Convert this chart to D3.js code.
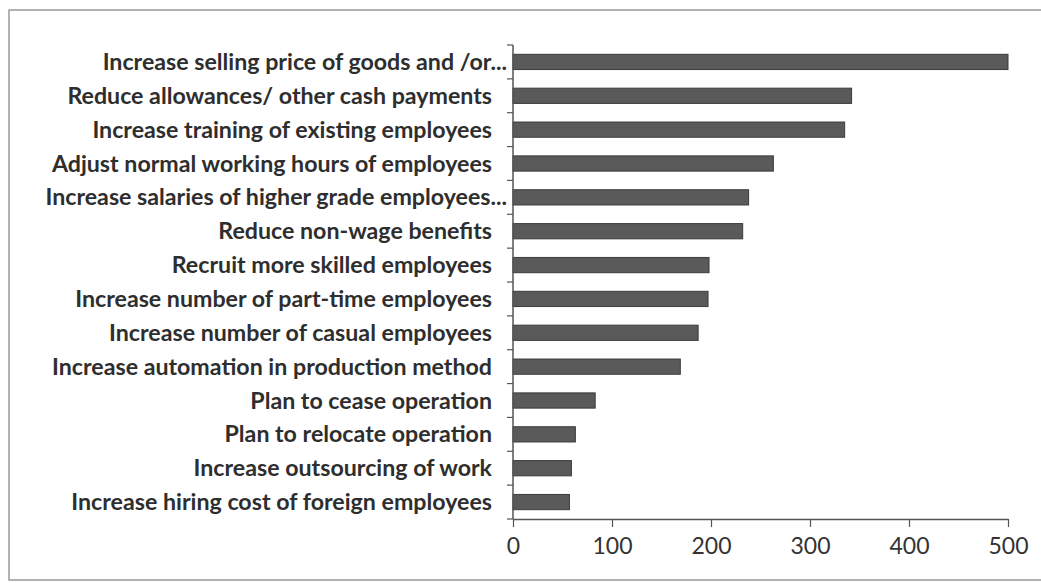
<!DOCTYPE html>
<html>
<head>
<meta charset="utf-8">
<script src="https://cdn.jsdelivr.net/npm/d3@7"></script>
<style>
  html, body { margin: 0; padding: 0; background: #fff; }
  svg { display: block; }
</style>
</head>
<body>
<svg id="chart" width="1041" height="583"></svg>
<script>
const categories = [
  "Increase selling price of goods and /or...",
  "Reduce allowances/ other cash payments",
  "Increase training of existing employees",
  "Adjust normal working hours of employees",
  "Increase salaries of higher grade employees...",
  "Reduce non-wage benefits",
  "Recruit more skilled employees",
  "Increase number of part-time employees",
  "Increase number of casual employees",
  "Increase automation in production method",
  "Plan to cease operation",
  "Plan to relocate operation",
  "Increase outsourcing of work",
  "Increase hiring cost of foreign employees"
];
const values = [500, 342, 335, 263, 238, 232, 198, 197, 187, 169, 83, 63, 59, 57];
const xTicks = [0, 100, 200, 300, 400, 500];

const svg = d3.select("#chart");
const margin = { left: 513, right: 33, top: 45, bottom: 64 };
const W = 1041, H = 583;

// outer frame
svg.append("rect")
  .attr("x", 9).attr("y", 10)
  .attr("width", 1100).attr("height", 570)
  .attr("fill", "none").attr("stroke", "#999").attr("stroke-width", 1.5);

const x = d3.scaleLinear().domain([0, 500]).range([margin.left, W - margin.right]);
const y = d3.scaleBand().domain(categories).range([margin.top, H - margin.bottom]).paddingInner(0.55).paddingOuter(0.275);

const fontFamily = "Lato, 'Open Sans', sans-serif";

// bars
svg.append("g").selectAll("rect")
  .data(categories)
  .join("rect")
  .attr("x", x(0))
  .attr("y", d => y(d))
  .attr("width", (d, i) => x(values[i]) - x(0))
  .attr("height", y.bandwidth())
  .attr("fill", "#5a5a5a")
  .attr("stroke", "#3c3c3c")
  .attr("stroke-width", 1);

// y axis line + ticks at category boundaries
const step = y.step();
const yAxisG = svg.append("g");
yAxisG.append("line")
  .attr("x1", x(0)).attr("x2", x(0))
  .attr("y1", margin.top).attr("y2", H - margin.bottom)
  .attr("stroke", "#555").attr("stroke-width", 1.5);
const boundaries = d3.range(categories.length + 1).map(i => margin.top + i * step);
yAxisG.selectAll("line.tk").data(boundaries).join("line")
  .attr("class", "tk")
  .attr("x1", x(0) - 6).attr("x2", x(0))
  .attr("y1", d => d).attr("y2", d => d)
  .attr("stroke", "#555").attr("stroke-width", 1.2);

// category labels
const labels = svg.append("g").selectAll("text")
  .data(categories)
  .join("text")
  .attr("x", d => d.endsWith("...") ? x(0) - 6 : x(0) - 21)
  .attr("y", d => y(d) + y.bandwidth() / 2)
  .attr("dy", "0.35em")
  .attr("text-anchor", "end")
  .attr("font-family", fontFamily)
  .attr("font-weight", "bold")
  .attr("font-size", 20)
  .attr("fill", "#2e2e2e")
  .text(d => d);

// fit font size so the reference label width matches
const ref = labels.filter((d, i) => i === 1).node();
const w = ref.getComputedTextLength();
const fs = 20 * 425 / w;
labels.attr("font-size", fs);

// x axis
const xAxis = d3.axisBottom(x).tickValues(xTicks).tickSize(8).tickPadding(11).tickSizeOuter(0);
const xg = svg.append("g")
  .attr("transform", `translate(0,${H - margin.bottom})`)
  .call(xAxis);
xg.select(".domain").attr("stroke", "#555").attr("stroke-width", 1.5);
xg.selectAll(".tick line").attr("stroke", "#555").attr("stroke-width", 1.2);
xg.selectAll(".tick text")
  .attr("font-family", fontFamily)
  .attr("font-size", 23)
  .attr("fill", "#333");
</script>
</body>
</html>
